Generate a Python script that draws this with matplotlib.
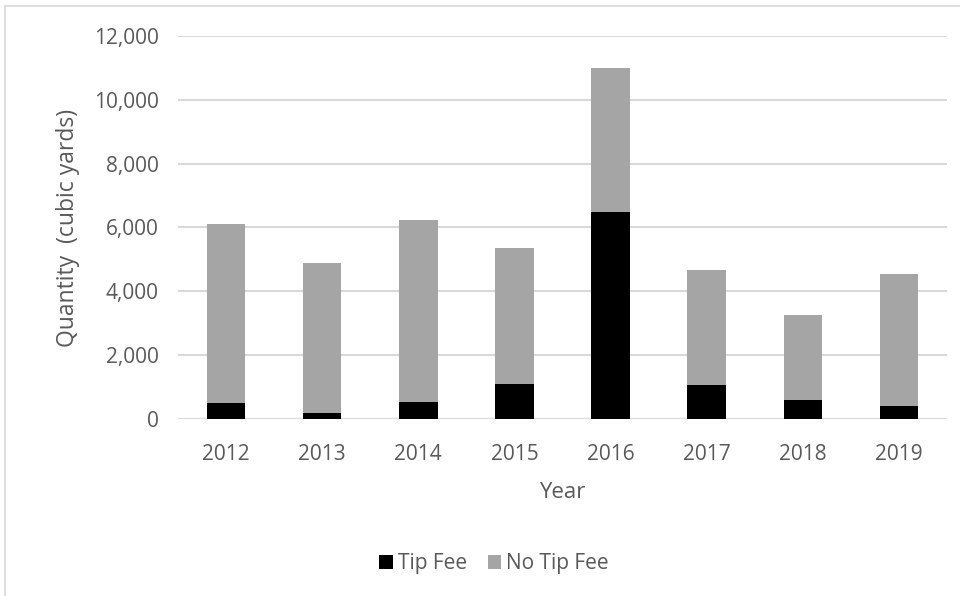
import matplotlib.pyplot as plt
import numpy as np
from matplotlib.patches import Rectangle

# Annual quantities (cubic yards)
years = ["2012", "2013", "2014", "2015", "2016", "2017", "2018", "2019"]
tip_fee = [500, 180, 540, 1100, 6480, 1060, 590, 420]
totals = [6120, 4880, 6240, 5360, 11010, 4680, 3260, 4550]
no_tip_fee = [t - f for t, f in zip(totals, tip_fee)]

plt.rcParams['font.family'] = ['Open Sans', 'DejaVu Sans']
text_gray = "#595959"

fig = plt.figure(figsize=(9.6, 5.96), dpi=100)
ax = fig.add_axes([0.1854, 0.2970, 0.8011, 0.6426])

x = np.arange(len(years))
ax.bar(x, tip_fee, width=0.4, color="black", label="Tip Fee", zorder=3)
ax.bar(x, no_tip_fee, width=0.4, bottom=tip_fee, color="#a5a5a5",
       label="No Tip Fee", zorder=3)

ax.set_xlim(-0.5, len(years) - 0.5)
ax.set_ylim(0, 12000)
ax.set_yticks(np.arange(0, 12001, 2000))
ax.set_yticklabels([f"{v:,}" for v in range(0, 12001, 2000)])
ax.set_xticks(x)
ax.set_xticklabels(years)

ax.grid(axis="y", color="#d9d9d9", linewidth=1.5, zorder=0)
for s in ax.spines.values():
    s.set_visible(False)
ax.tick_params(length=0, labelsize=15, labelcolor=text_gray)
ax.tick_params(axis="x", pad=18)
ax.tick_params(axis="y", pad=14)

ax.set_xlabel("Year", fontsize=16, color=text_gray, labelpad=12)
ax.set_ylabel("Quantity  (cubic yards)", fontsize=16.5, color=text_gray, labelpad=10)

leg = ax.legend(loc="center", bbox_to_anchor=(0.5 + (494 - 562.5) / 769, -0.378),
                ncol=2, frameon=False, fontsize=15, handlelength=0.65,
                handleheight=0.65, handletextpad=0.25, columnspacing=1.0)
for t in leg.get_texts():
    t.set_color(text_gray)

# chart area border
fig.patches.append(Rectangle((5 / 960, -0.1), 1.1, 1 - 6 / 596 + 0.1,
                             transform=fig.transFigure, fill=False,
                             edgecolor="#d9d9d9", linewidth=1.2))

fig.savefig("out.png", dpi=100)
